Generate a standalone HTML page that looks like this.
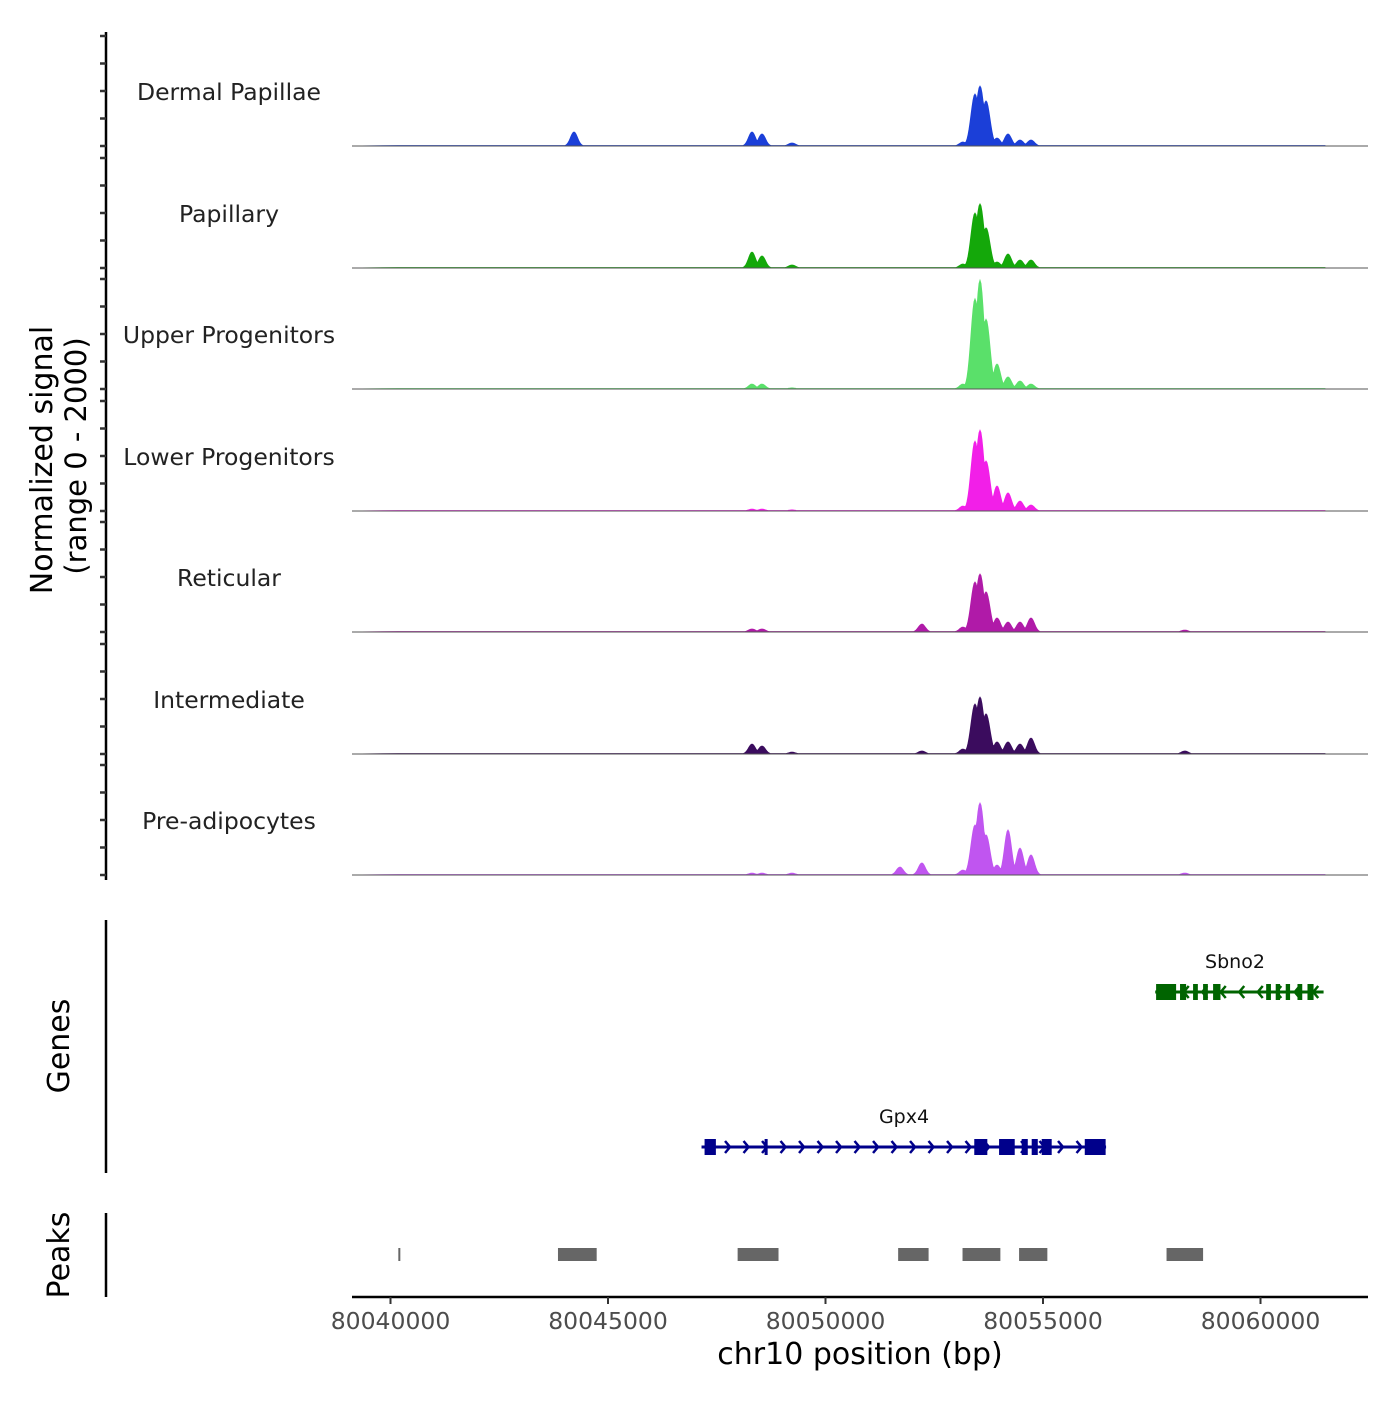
<!DOCTYPE html>
<html><head><meta charset="utf-8"><style>
body{margin:0;background:#fff}
svg text{font-family:"DejaVu Sans","Liberation Sans",sans-serif}
</style></head><body>
<svg id="c" width="1400" height="1400" viewBox="0 0 1400 1400" xmlns="http://www.w3.org/2000/svg">
<g id="tracks"></g>
<g id="genes"></g>
<g id="peaks"></g>
<g id="axes"></g>
</svg>
<script>
const trackNames = ["Dermal Papillae","Papillary","Upper Progenitors","Lower Progenitors","Reticular","Intermediate","Pre-adipocytes"];
const trackColors = ["#1b3fd8","#14a80a","#5ae06a","#f21fe8","#b01aa8","#3b0c5e","#c055f0"];
const peakPositions = [80044218,80048310,80048540,80049230,80051710,80052215,80053160,80053437,80053552,80053690,80053943,80054195,80054471,80054724,80058260];
const signalDP  = [255,255,220,55,0,0,73,945,1090,820,145,220,110,110,0];
const signalPap = [0,290,220,55,0,0,73,1000,1165,730,110,255,145,145,0];
const signalUP  = [0,90,90,20,0,0,90,1640,1980,1270,455,220,145,90,0];
const signalLP  = [0,35,35,20,0,0,90,1270,1470,910,455,330,180,110,0];
const signalRet = [0,55,55,0,0,145,90,910,1055,730,255,180,180,255,35];
const signalInt = [0,180,145,35,0,55,90,910,1035,730,220,220,180,290,55];
const signalPre = [0,35,35,35,145,220,90,910,1310,730,180,820,490,365,35];
const signals = [signalDP,signalPap,signalUP,signalLP,signalRet,signalInt,signalPre];
const xTicks = [80040000,80045000,80050000,80055000,80060000];
const peakStarts = [80040180,80043850,80047980,80051670,80053150,80054450,80057840];
const peakEnds   = [80040210,80044740,80048920,80052370,80054020,80055100,80058680];
const gpx4Exons = [[80047220,80047480],[80048600,80048670],[80053420,80053720],[80053990,80054350],[80054510,80054650],[80054740,80054880],[80054970,80055200],[80055960,80056020],[80056020,80056440]];
const sbno2Exons = [[80057600,80058060],[80058150,80058290],[80058450,80058560],[80058680,80058790],[80058910,80059080],[80060130,80060240],[80060350,80060450],[80060580,80060680],[80060850,80060960],[80061080,80061220]];

const NS="http://www.w3.org/2000/svg";
function el(t,a,p){const e=document.createElementNS(NS,t);for(const k in a)e.setAttribute(k,a[k]);(p||document.getElementById('c')).appendChild(e);return e;}
const X=bp=>390.5+(bp-80040000)*0.0435;
const Y=(v,b)=>b-v*0.055;
const baselines=[146,268,389,511,632,754,875];
const tg=document.getElementById('tracks');
signals.forEach((s,i)=>{
  const b=baselines[i];
  const g=el('g',{},tg);
  
  
  let pts=[[352,b]];
  for(let px=398;px<=1325;px+=1){
    let v=0;
    peakPositions.forEach((p,j)=>{const d=px-X(p);const sd=j>=7&&j<=9?4:3.5;v=Math.max(v,s[j]*Math.exp(-d*d/(2*sd*sd)));});
    v=Math.max(v,9);
    pts.push([px,Y(v,b)]);
  }
  pts.push([1325,b]);
  const a=el('polygon',{points:pts.map(p=>p[0].toFixed(1)+','+p[1].toFixed(1)).join(' '),fill:trackColors[i],stroke:trackColors[i],'stroke-width':0.8},g);
  
  
  const l=el('line',{x1:352,x2:1368,y1:b,y2:b,stroke:'#555','stroke-width':1},g);
  
  
  const t=el('text',{x:229,y:b-46,'font-size':23.5,'text-anchor':'middle',fill:'#222'},g);
  t.textContent=trackNames[i];
  
  
});
// genes
const gg=document.getElementById('genes');
function gene(name,start,end,y,exons,color,dir,lx){
  const g=el('g',{},gg);
  
  
  el('line',{x1:X(start),x2:X(end),y1:y,y2:y,stroke:color,'stroke-width':3},g);
  for(let px=X(start)+10;px<X(end)-5;px+=18.5){
    const d=dir*5;
    el('polyline',{points:`${px-d},${y-6} ${px},${y} ${px-d},${y+6}`,fill:'none',stroke:color,'stroke-width':2.5},g);
  }
  exons.forEach(e=>{el('rect',{x:X(e[0]),y:y-8,width:Math.max(3,X(e[1])-X(e[0])),height:16,fill:color},g);});
  const t=el('text',{x:lx,y:y-24,'font-size':19,'text-anchor':'middle',fill:'#111'},g);
  t.textContent=name;
}
gene('Gpx4',80047150,80056450,1147,gpx4Exons,'#00008b',1,904);
gene('Sbno2',80057580,80061450,992,sbno2Exons,'#006400',-1,1235);
// peaks
const pg=document.getElementById('peaks');
peakStarts.forEach((s,i)=>{
  const r=el('rect',{x:X(s),y:1248,width:Math.max(2,X(peakEnds[i])-X(s)),height:13,fill:'#666'},pg);
  
  
});
// axes
const ag=document.getElementById('axes');
el('line',{x1:106,x2:106,y1:32,y2:880,stroke:'#000','stroke-width':2.5},ag);
baselines.forEach(b=>{[0,27.5,55,82.5,110].forEach(o=>{el('line',{x1:100,x2:106,y1:b-o,y2:b-o,stroke:'#333','stroke-width':2.5},ag);});});
el('line',{x1:106,x2:106,y1:920,y2:1173,stroke:'#000','stroke-width':2.5},ag);
el('line',{x1:106,x2:106,y1:1213,y2:1297,stroke:'#000','stroke-width':2.5},ag);
el('line',{x1:352,x2:1368,y1:1297,y2:1297,stroke:'#000','stroke-width':2.5},ag);
xTicks.forEach(v=>{
  el('line',{x1:X(v),x2:X(v),y1:1297,y2:1304,stroke:'#333','stroke-width':2},ag);
  const t=el('text',{x:X(v),y:1329,'font-size':23.5,'text-anchor':'middle',fill:'#4d4d4d'},ag);
  t.textContent=v;
  
  
});
function txt(s,x,y,size,rot,name){const t=el('text',{x:x,y:y,'font-size':size,'text-anchor':'middle',fill:'#000',transform:rot?`rotate(-90 ${x} ${y})`:''},ag);t.textContent=s;}
txt('chr10 position (bp)',860,1364,30,false,'x-axis-title');
txt('Normalized signal',52,460,30,true,'y-axis-title');
txt('(range 0 - 2000)',86,456,29,true,'y-axis-subtitle');
txt('Genes',69,1046,30,true,'genes-axis-title');
txt('Peaks',69,1255,30,true,'peaks-axis-title');
</script>
</body></html>
